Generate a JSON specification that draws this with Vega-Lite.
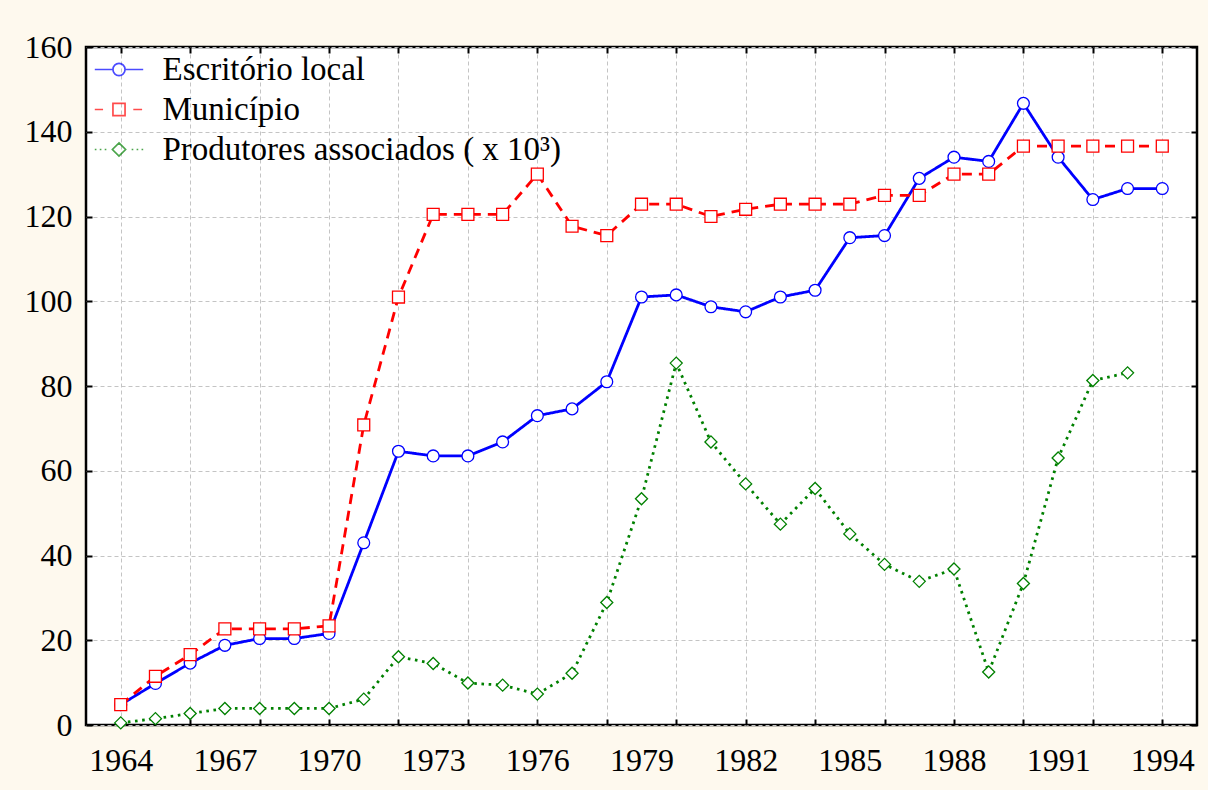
{
  "$schema": "https://vega.github.io/schema/vega-lite/v6.json",
  "width": 1111,
  "height": 678,
  "autosize": {"type": "none"},
  "padding": {"left": 86, "top": 47, "right": 11, "bottom": 65},
  "background": "#FEF9EE",
  "config": {
    "view": {"stroke": "black", "strokeWidth": 2.5, "fill": "white"},
    "legend": {
      "orient": "none",
      "legendX": 16.5,
      "legendY": 6,
      "padding": 0,
      "labelFont": "Liberation Serif",
      "labelFontSize": 33,
      "labelColor": "black",
      "labelLimit": 0,
      "labelOffset": 27,
      "rowPadding": 6,
      "symbolSize": 121,
      "symbolStrokeWidth": 1.7
    }
  },
  "data": {
    "values": [
      {"ano": 1964, "serie": "Escritório local", "valor": 4.8},
      {"ano": 1965, "serie": "Escritório local", "valor": 9.8},
      {"ano": 1966, "serie": "Escritório local", "valor": 14.6},
      {"ano": 1967, "serie": "Escritório local", "valor": 18.8},
      {"ano": 1968, "serie": "Escritório local", "valor": 20.4},
      {"ano": 1969, "serie": "Escritório local", "valor": 20.4},
      {"ano": 1970, "serie": "Escritório local", "valor": 21.6},
      {"ano": 1971, "serie": "Escritório local", "valor": 43.0},
      {"ano": 1972, "serie": "Escritório local", "valor": 64.6},
      {"ano": 1973, "serie": "Escritório local", "valor": 63.5},
      {"ano": 1974, "serie": "Escritório local", "valor": 63.5},
      {"ano": 1975, "serie": "Escritório local", "valor": 66.8},
      {"ano": 1976, "serie": "Escritório local", "valor": 73.0},
      {"ano": 1977, "serie": "Escritório local", "valor": 74.6},
      {"ano": 1978, "serie": "Escritório local", "valor": 81.0},
      {"ano": 1979, "serie": "Escritório local", "valor": 101.0},
      {"ano": 1980, "serie": "Escritório local", "valor": 101.5},
      {"ano": 1981, "serie": "Escritório local", "valor": 98.7},
      {"ano": 1982, "serie": "Escritório local", "valor": 97.5},
      {"ano": 1983, "serie": "Escritório local", "valor": 101.0},
      {"ano": 1984, "serie": "Escritório local", "valor": 102.6},
      {"ano": 1985, "serie": "Escritório local", "valor": 115.0},
      {"ano": 1986, "serie": "Escritório local", "valor": 115.5},
      {"ano": 1987, "serie": "Escritório local", "valor": 129.0},
      {"ano": 1988, "serie": "Escritório local", "valor": 134.0},
      {"ano": 1989, "serie": "Escritório local", "valor": 133.0},
      {"ano": 1990, "serie": "Escritório local", "valor": 146.7},
      {"ano": 1991, "serie": "Escritório local", "valor": 134.0},
      {"ano": 1992, "serie": "Escritório local", "valor": 124.0},
      {"ano": 1993, "serie": "Escritório local", "valor": 126.6},
      {"ano": 1994, "serie": "Escritório local", "valor": 126.6},
      {"ano": 1964, "serie": "Município", "valor": 4.8},
      {"ano": 1965, "serie": "Município", "valor": 11.5},
      {"ano": 1966, "serie": "Município", "valor": 16.6},
      {"ano": 1967, "serie": "Município", "valor": 22.7},
      {"ano": 1968, "serie": "Município", "valor": 22.7},
      {"ano": 1969, "serie": "Município", "valor": 22.7},
      {"ano": 1970, "serie": "Município", "valor": 23.4},
      {"ano": 1971, "serie": "Município", "valor": 70.8},
      {"ano": 1972, "serie": "Município", "valor": 101.0},
      {"ano": 1973, "serie": "Município", "valor": 120.5},
      {"ano": 1974, "serie": "Município", "valor": 120.5},
      {"ano": 1975, "serie": "Município", "valor": 120.5},
      {"ano": 1976, "serie": "Município", "valor": 130.0},
      {"ano": 1977, "serie": "Município", "valor": 117.7},
      {"ano": 1978, "serie": "Município", "valor": 115.5},
      {"ano": 1979, "serie": "Município", "valor": 122.9},
      {"ano": 1980, "serie": "Município", "valor": 122.9},
      {"ano": 1981, "serie": "Município", "valor": 120.0},
      {"ano": 1982, "serie": "Município", "valor": 121.7},
      {"ano": 1983, "serie": "Município", "valor": 122.9},
      {"ano": 1984, "serie": "Município", "valor": 122.9},
      {"ano": 1985, "serie": "Município", "valor": 122.9},
      {"ano": 1986, "serie": "Município", "valor": 125.0},
      {"ano": 1987, "serie": "Município", "valor": 125.0},
      {"ano": 1988, "serie": "Município", "valor": 130.0},
      {"ano": 1989, "serie": "Município", "valor": 130.0},
      {"ano": 1990, "serie": "Município", "valor": 136.6},
      {"ano": 1991, "serie": "Município", "valor": 136.6},
      {"ano": 1992, "serie": "Município", "valor": 136.6},
      {"ano": 1993, "serie": "Município", "valor": 136.6},
      {"ano": 1994, "serie": "Município", "valor": 136.6},
      {"ano": 1964, "serie": "Produtores associados ( x 10³)", "valor": 0.5},
      {"ano": 1965, "serie": "Produtores associados ( x 10³)", "valor": 1.5},
      {"ano": 1966, "serie": "Produtores associados ( x 10³)", "valor": 2.7},
      {"ano": 1967, "serie": "Produtores associados ( x 10³)", "valor": 3.9},
      {"ano": 1968, "serie": "Produtores associados ( x 10³)", "valor": 3.9},
      {"ano": 1969, "serie": "Produtores associados ( x 10³)", "valor": 3.9},
      {"ano": 1970, "serie": "Produtores associados ( x 10³)", "valor": 3.9},
      {"ano": 1971, "serie": "Produtores associados ( x 10³)", "valor": 6.1},
      {"ano": 1972, "serie": "Produtores associados ( x 10³)", "valor": 16.1},
      {"ano": 1973, "serie": "Produtores associados ( x 10³)", "valor": 14.5},
      {"ano": 1974, "serie": "Produtores associados ( x 10³)", "valor": 9.9},
      {"ano": 1975, "serie": "Produtores associados ( x 10³)", "valor": 9.4},
      {"ano": 1976, "serie": "Produtores associados ( x 10³)", "valor": 7.3},
      {"ano": 1977, "serie": "Produtores associados ( x 10³)", "valor": 12.2},
      {"ano": 1978, "serie": "Produtores associados ( x 10³)", "valor": 28.9},
      {"ano": 1979, "serie": "Produtores associados ( x 10³)", "valor": 53.4},
      {"ano": 1980, "serie": "Produtores associados ( x 10³)", "valor": 85.4},
      {"ano": 1981, "serie": "Produtores associados ( x 10³)", "valor": 66.8},
      {"ano": 1982, "serie": "Produtores associados ( x 10³)", "valor": 56.9},
      {"ano": 1983, "serie": "Produtores associados ( x 10³)", "valor": 47.4},
      {"ano": 1984, "serie": "Produtores associados ( x 10³)", "valor": 55.8},
      {"ano": 1985, "serie": "Produtores associados ( x 10³)", "valor": 45.1},
      {"ano": 1986, "serie": "Produtores associados ( x 10³)", "valor": 37.9},
      {"ano": 1987, "serie": "Produtores associados ( x 10³)", "valor": 33.9},
      {"ano": 1988, "serie": "Produtores associados ( x 10³)", "valor": 36.8},
      {"ano": 1989, "serie": "Produtores associados ( x 10³)", "valor": 12.5},
      {"ano": 1990, "serie": "Produtores associados ( x 10³)", "valor": 33.4},
      {"ano": 1991, "serie": "Produtores associados ( x 10³)", "valor": 63.0},
      {"ano": 1992, "serie": "Produtores associados ( x 10³)", "valor": 81.3},
      {"ano": 1993, "serie": "Produtores associados ( x 10³)", "valor": 83.1}
    ]
  },
  "resolve": {
    "scale": {"shape": "independent", "stroke": "independent", "size": "independent"},
    "axis": {"x": "independent", "y": "independent"}
  },
  "layer": [
    {
      "mark": {"type": "line", "strokeWidth": 2.8},
      "encoding": {
        "x": {
          "field": "ano", "type": "quantitative",
          "scale": {"domain": [1963, 1995], "nice": false, "zero": false},
          "axis": {
            "orient": "bottom", "title": null, "labels": false, "domain": false,
            "values": [1964, 1966, 1968, 1970, 1972, 1974, 1976, 1978, 1980, 1982, 1984, 1986, 1988, 1990, 1992, 1994],
            "ticks": true, "tickSize": -6, "tickWidth": 2, "tickColor": "black",
            "grid": true, "gridColor": "#c4c4c4", "gridDash": [4, 3], "gridWidth": 1
          }
        },
        "y": {
          "field": "valor", "type": "quantitative",
          "scale": {"domain": [0, 160], "nice": false},
          "axis": {
            "orient": "left", "title": null, "labels": false, "domain": false,
            "values": [0, 20, 40, 60, 80, 100, 120, 140, 160],
            "ticks": true, "tickSize": -6, "tickWidth": 2, "tickColor": "black",
            "grid": true, "gridColor": "#c4c4c4", "gridDash": [4, 3], "gridWidth": 1
          }
        },
        "stroke": {
          "field": "serie", "type": "nominal", "legend": null,
          "scale": {"domain": ["Escritório local", "Município", "Produtores associados ( x 10³)"], "range": ["#0000FF", "#FF0000", "#008000"]}
        },
        "strokeDash": {
          "field": "serie", "type": "nominal", "legend": null,
          "scale": {"domain": ["Escritório local", "Município", "Produtores associados ( x 10³)"], "range": [[1, 0], [10, 7], [2.6, 4.6]]}
        }
      }
    },
    {
      "mark": {"type": "point", "filled": true, "fill": "white", "strokeWidth": 1.3, "opacity": 1},
      "encoding": {
        "x": {
          "field": "ano", "type": "quantitative",
          "axis": {
            "orient": "top", "title": null, "labels": false, "domain": false, "grid": false,
            "values": [1964, 1966, 1968, 1970, 1972, 1974, 1976, 1978, 1980, 1982, 1984, 1986, 1988, 1990, 1992, 1994],
            "ticks": true, "tickSize": -6, "tickWidth": 2, "tickColor": "black"
          }
        },
        "y": {
          "field": "valor", "type": "quantitative",
          "axis": {
            "orient": "right", "title": null, "labels": false, "domain": false, "grid": false,
            "values": [0, 20, 40, 60, 80, 100, 120, 140, 160],
            "ticks": true, "tickSize": -6, "tickWidth": 2, "tickColor": "black"
          }
        },
        "stroke": {
          "field": "serie", "type": "nominal", "legend": null,
          "scale": {"domain": ["Escritório local", "Município", "Produtores associados ( x 10³)"], "range": ["#0000FF", "#FF0000", "#008000"]}
        },
        "shape": {
          "field": "serie", "type": "nominal", "legend": null,
          "scale": {"domain": ["Escritório local", "Município", "Produtores associados ( x 10³)"], "range": ["circle", "square", "diamond"]}
        },
        "size": {
          "field": "serie", "type": "ordinal", "legend": null,
          "scale": {"domain": ["Escritório local", "Município", "Produtores associados ( x 10³)"], "range": [140, 145, 200]}
        }
      }
    },
    {
      "transform": [{"filter": "datum.valor < -1"}],
      "mark": {"type": "point", "filled": false, "strokeWidth": 1.7},
      "encoding": {
        "x": {
          "field": "ano", "type": "quantitative",
          "axis": {
            "orient": "bottom", "title": null, "domain": false, "grid": false,
            "ticks": false, "tickSize": 0,
            "values": [1964, 1967, 1970, 1973, 1976, 1979, 1982, 1985, 1988, 1991, 1994],
            "format": "d", "labelFont": "Liberation Serif", "labelFontSize": 32, "labelColor": "black",
            "labelPadding": 20, "labelFlush": false, "labelOverlap": false
          }
        },
        "y": {
          "field": "valor", "type": "quantitative",
          "axis": {
            "orient": "left", "title": null, "domain": false, "grid": false,
            "ticks": false, "tickSize": 0,
            "values": [0, 20, 40, 60, 80, 100, 120, 140, 160],
            "format": "d", "labelFont": "Liberation Serif", "labelFontSize": 32, "labelColor": "black",
            "labelPadding": 14, "labelOverlap": false
          }
        },
        "stroke": {
          "field": "serie", "type": "nominal",
          "scale": {"domain": ["Escritório local", "Município", "Produtores associados ( x 10³)"], "range": ["#0000FF", "#FF0000", "#008000"]},
          "legend": {"title": null}
        },
        "shape": {
          "field": "serie", "type": "nominal",
          "scale": {
            "domain": ["Escritório local", "Município", "Produtores associados ( x 10³)"],
            "range": [
              "M-4.4,0L-1.1,0M1.1,0L4.4,0M1.1,0A1.1 1.1 0 1 1 -1.1,0A1.1 1.1 0 1 1 1.1,0Z",
              "M-4.4,0L-2.9,0M2.6,0L4.2,0M-1.1,-1.1L1.1,-1.1L1.1,1.1L-1.1,1.1Z",
              "M-4.4,0L-4.1,0M-3.5,0L-3.2,0M-2.6,0L-2.3,0M0,-1.2L1.2,0L0,1.2L-1.2,0ZM2.3,0L2.6,0M3.2,0L3.5,0M4.1,0L4.4,0"
            ]
          },
          "legend": {"title": null}
        }
      }
    }
  ]
}
